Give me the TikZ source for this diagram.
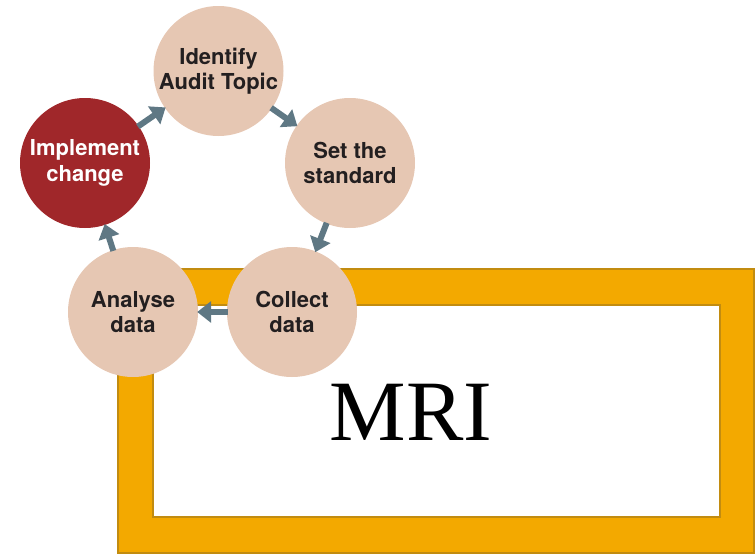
\documentclass[tikz,border=0pt]{standalone}
\usepackage{fontspec}
\setmainfont{Liberation Serif}
\newfontfamily\lblfont{TeX Gyre Heros}
\usetikzlibrary{arrows.meta}
\definecolor{peach}{HTML}{E6C7B3}
\definecolor{implred}{HTML}{A0272A}
\definecolor{arrgray}{HTML}{5F7884}
\definecolor{frameor}{HTML}{F3A900}
\definecolor{frameedge}{HTML}{C28C10}
\definecolor{txtdark}{HTML}{231F20}
\tikzset{
  stepcirc/.style={circle, fill=peach, minimum size=130pt, inner sep=0pt, align=center,
     font=\lblfont\bfseries\fontsize{22}{25.5}\selectfont, text=txtdark,
     execute at begin node={\rule{0pt}{22pt}}},
  redcirc/.style={stepcirc, fill=implred, text=white},
  arr/.style={draw=arrgray, line width=6pt, -{Triangle[width=21pt,length=14pt]}, shorten <=-1pt, shorten >=-1pt},
  framebox/.style={fill=frameor, draw=frameedge, line width=1.5pt},
  innerbox/.style={fill=white, draw=frameedge, line width=1.5pt}
}
\begin{document}
\begin{tikzpicture}[x=1pt,y=-1pt]
\useasboundingbox (0,0) rectangle (755,554);
% frame
\path[framebox] (118,269) rectangle (754,553);
\path[innerbox] (153,305) rectangle (720,517);
\node[font=\fontsize{86}{86}\selectfont, anchor=base] (mri) at (411,440) {MRI};
% circles
\node[stepcirc] (ident) at (218.5,71) {Identify\\Audit Topic};
\node[stepcirc] (setstd) at (350,163) {Set the\\standard};
\node[stepcirc] (collect) at (292,312) {Collect\\data};
\node[stepcirc] (analyse) at (133,312) {Analyse\\data};
\node[redcirc] (impl) at (85,163) {Implement\\change};
% arrows
\draw[arr] (ident) -- (setstd);
\draw[arr] (setstd) -- (collect);
\draw[arr] (collect) -- (analyse);
\draw[arr] (analyse) -- (impl);
\draw[arr] (impl) -- (ident);
\end{tikzpicture}
\end{document}
